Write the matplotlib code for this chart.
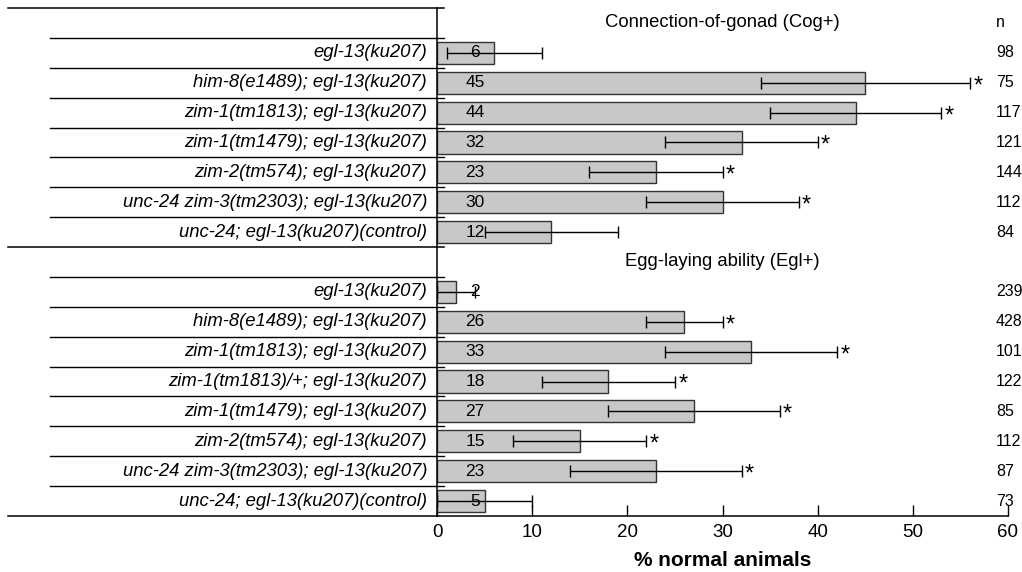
import matplotlib
matplotlib.use("Agg")
import matplotlib.pyplot as plt
import matplotlib.transforms as mtransforms

plt.rcParams['font.family'] = ['Liberation Sans', 'DejaVu Sans']

cog_title = "Connection-of-gonad (Cog+)"
cog_labels = ["egl-13(ku207)", "him-8(e1489); egl-13(ku207)", "zim-1(tm1813); egl-13(ku207)",
              "zim-1(tm1479); egl-13(ku207)", "zim-2(tm574); egl-13(ku207)",
              "unc-24 zim-3(tm2303); egl-13(ku207)", "unc-24; egl-13(ku207)(control)"]
cog_values = [6, 45, 44, 32, 23, 30, 12]
cog_err = [5, 11, 9, 8, 7, 8, 7]
cog_n = [98, 75, 117, 121, 144, 112, 84]
cog_sig = [False, True, True, True, True, True, False]

egl_title = "Egg-laying ability (Egl+)"
egl_labels = ["egl-13(ku207)", "him-8(e1489); egl-13(ku207)", "zim-1(tm1813); egl-13(ku207)",
              "zim-1(tm1813)/+; egl-13(ku207)", "zim-1(tm1479); egl-13(ku207)",
              "zim-2(tm574); egl-13(ku207)", "unc-24 zim-3(tm2303); egl-13(ku207)",
              "unc-24; egl-13(ku207)(control)"]
egl_values = [2, 26, 33, 18, 27, 15, 23, 5]
egl_err = [2, 4, 9, 7, 9, 7, 9, 5]
egl_n = [239, 428, 101, 122, 85, 112, 87, 73]
egl_sig = [False, True, True, True, True, True, True, False]

x_ticks = [0, 10, 20, 30, 40, 50, 60]
x_label = "% normal animals"

W, H = 1022, 572
fig = plt.figure(figsize=(W / 100, H / 100), dpi=100)
ax_l, ax_r, ax_t, ax_b = 437, 1008, 8, 516
ax = fig.add_axes([ax_l / W, (H - ax_b) / H, (ax_r - ax_l) / W, (ax_b - ax_t) / H])

nrows = 1 + len(cog_labels) + 1 + len(egl_labels)
ax.set_xlim(0, 60)
ax.set_ylim(nrows, 0)

def px2ax(px):
    return (px - ax_l) / (ax_r - ax_l)

blend = mtransforms.blended_transform_factory(ax.transAxes, ax.transData)

sections = [(cog_title, cog_labels, cog_values, cog_err, cog_n, cog_sig, 0),
            (egl_title, egl_labels, egl_values, egl_err, egl_n, egl_sig, 1 + len(cog_labels))]

bar_color = "#c8c8c8"
n_x = 996
for title, labels, vals, errs, ns, sigs, start in sections:
    ax.text(30, start + 0.5, title, ha='center', va='center', fontsize=13.3)
    ax.plot([px2ax(8), px2ax(444)], [start, start], transform=blend, color='black',
            lw=1.1, clip_on=False)
    ys = [start + 1 + i + 0.5 for i in range(len(labels))]
    ax.barh(ys, vals, height=0.74, color=bar_color, edgecolor='#333333', linewidth=1.0, zorder=2)
    for y, v, e, lab, n, s in zip(ys, vals, errs, labels, ns, sigs):
        ax.errorbar(v, y, xerr=e, fmt='none', ecolor='black', elinewidth=1.0,
                    capsize=4, capthick=1.0, zorder=3)
        ax.text(4.0, y, str(v), ha='center', va='center', fontsize=12.5, zorder=4)
        ax.text(px2ax(427), y, lab, transform=blend,
                ha='right', va='center', fontsize=13.3, style='italic')
        ax.text(px2ax(n_x), y, str(n), transform=blend, ha='left', va='center',
                fontsize=11.5, clip_on=False)
        if s:
            ax.annotate('*', xy=(v + e, y), xytext=(2.5, -2.5), textcoords='offset points',
                        ha='left', va='center', fontsize=17)
        ax.plot([px2ax(50), px2ax(444)], [y - 0.5, y - 0.5], transform=blend,
                color='black', lw=1.0, clip_on=False)

ax.text(px2ax(n_x), 0.5, "n", transform=blend, ha='left', va='center', fontsize=11.5)
ax.plot([px2ax(8), 0], [nrows, nrows], transform=blend, color='black', lw=1.1, clip_on=False)

for sp in ['top', 'right']:
    ax.spines[sp].set_visible(False)
ax.spines['left'].set_linewidth(1.1)
ax.spines['bottom'].set_linewidth(1.1)
ax.set_yticks([])
ax.set_xticks(x_ticks)
ax.tick_params(axis='x', direction='in', length=8, width=1.0, labelsize=13.5, pad=6)
ax.set_xlabel(x_label, fontsize=15, fontweight='bold', labelpad=7)

fig.savefig("out.png", dpi=100)
